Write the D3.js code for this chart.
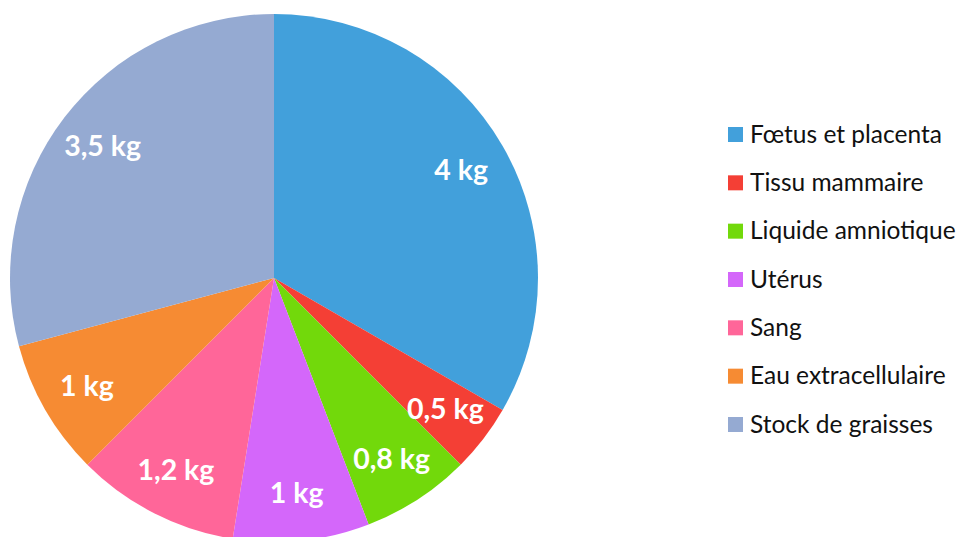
<!DOCTYPE html>
<html><head><meta charset="utf-8">
<script src="https://cdn.jsdelivr.net/npm/d3@7"></script>
<style>body{margin:0;background:#fff;}svg{display:block;}</style>
</head><body>
<script>
const categories = ["Fœtus et placenta","Tissu mammaire","Liquide amniotique","Utérus","Sang","Eau extracellulaire","Stock de graisses"];
const values = [4,0.5,0.8,1,1.2,1,3.5];
const labels = ["4 kg","0,5 kg","0,8 kg","1 kg","1,2 kg","1 kg","3,5 kg"];
const colors = ["#42A0DB","#F43F35","#72D90B","#D467FA","#FF6699","#F68B33","#95AAD2"];

const W=960,H=537, cx=274, cy=278, R=264;
const svg=d3.select("body").append("svg").attr("width",W).attr("height",H);
const data = categories.map((c,i)=>({c,v:values[i],l:labels[i],col:colors[i]}));
const pie=d3.pie().value(d=>d.v).sort(null);
const arc=d3.arc().innerRadius(0).outerRadius(R);
const lab=d3.arc().innerRadius(216).outerRadius(216);
const g=svg.append("g").attr("transform",`translate(${cx},${cy})`);
const arcs=pie(data);
g.selectAll("path").data(arcs).join("path").attr("d",arc).attr("fill",d=>d.data.col);
g.selectAll("text").data(arcs).join("text")
  .attr("transform",d=>`translate(${lab.centroid(d)})`)
  .attr("text-anchor","middle").attr("dy","0.35em")
  .attr("font-family","Lato, 'Open Sans', sans-serif").attr("font-weight","bold")
  .attr("font-size",28.5).attr("fill","#fff").text(d=>d.data.l);

const y=d3.scalePoint().domain(categories).range([134,424]);
const lg=svg.append("g");
const rows=lg.selectAll("g").data(data).join("g").attr("transform",d=>`translate(728,${y(d.c)})`);
rows.append("rect").attr("x",0).attr("y",-7).attr("width",15).attr("height",15).attr("fill",d=>d.col);
rows.append("text").attr("x",22).attr("dy","0.35em").attr("font-family","Lato, 'Open Sans', sans-serif")
  .attr("font-size",24.5).attr("fill","#111").text(d=>d.c);
</script>
</body></html>
